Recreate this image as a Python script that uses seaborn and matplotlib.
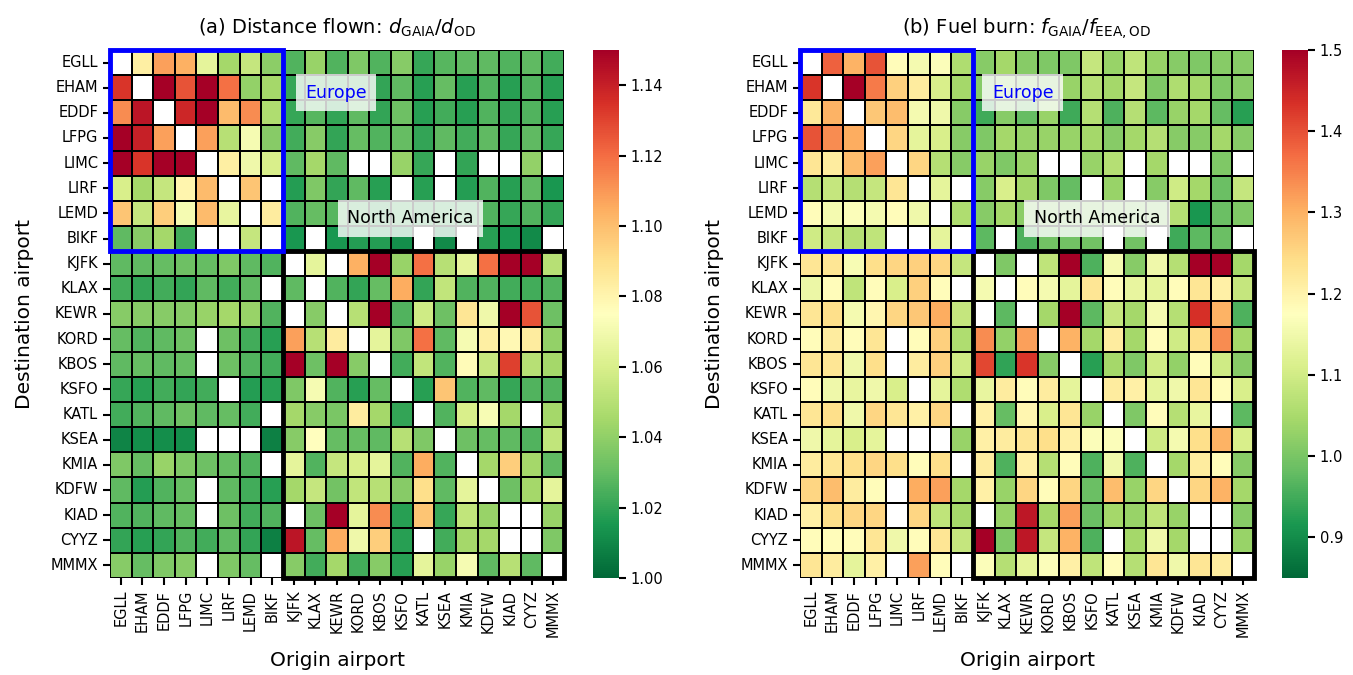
import numpy as np
import pandas as pd
import matplotlib
matplotlib.use("Agg")
import matplotlib.pyplot as plt
from matplotlib.patches import Rectangle
import seaborn as sns

nan = np.nan

# ── Data ────────────────────────────────────────────────────────────────────
airports = ["EGLL", "EHAM", "EDDF", "LFPG", "LIMC", "LIRF", "LEMD", "BIKF",
            "KJFK", "KLAX", "KEWR", "KORD", "KBOS", "KSFO", "KATL", "KSEA",
            "KMIA", "KDFW", "KIAD", "CYYZ", "MMMX"]
n_europe = 8

# rows = destination, columns = origin
distance_ratio = [
    [nan, 1.083, 1.108, 1.104, 1.065, 1.045, 1.054, 1.039, 1.026, 1.042, 1.026, 1.036, 1.026, 1.038, 1.021, 1.027, 1.029, 1.029, 1.026, 1.029, 1.023],  # EGLL
    [1.134, nan, 1.150, 1.126, 1.150, 1.119, 1.041, 1.045, 1.021, 1.024, 1.023, 1.024, 1.020, 1.029, 1.018, 1.030, 1.018, 1.026, 1.018, 1.026, 1.018],  # EHAM
    [1.113, 1.143, nan, 1.138, 1.150, 1.101, 1.113, 1.048, 1.021, 1.027, 1.020, 1.029, 1.020, 1.032, 1.018, 1.023, 1.018, 1.026, 1.020, 1.026, 1.018],  # EDDF
    [1.150, 1.140, 1.108, nan, 1.108, 1.050, 1.071, 1.038, 1.023, 1.038, 1.020, 1.030, 1.026, 1.030, 1.020, 1.029, 1.023, 1.029, 1.021, 1.029, 1.021],  # LFPG
    [1.150, 1.134, 1.150, 1.150, nan, 1.083, 1.069, 1.060, 1.029, 1.045, 1.029, nan, nan, 1.042, 1.021, nan, 1.020, nan, nan, 1.041, nan],  # LIMC
    [1.060, 1.045, 1.054, 1.080, 1.101, nan, 1.098, nan, 1.017, 1.036, 1.020, 1.029, 1.018, nan, 1.018, nan, 1.017, 1.026, 1.018, 1.029, 1.015],  # LIRF
    [1.098, 1.054, 1.095, 1.071, 1.101, 1.066, nan, 1.084, 1.026, 1.030, 1.027, 1.024, 1.021, 1.024, 1.021, 1.023, 1.023, 1.026, 1.021, 1.026, 1.020],  # LEMD
    [1.029, 1.038, 1.045, 1.023, nan, nan, 1.054, nan, 1.015, nan, 1.015, 1.017, 1.017, 1.012, nan, 1.011, nan, 1.018, 1.015, 1.011, nan],  # BIKF
    [1.029, 1.029, 1.030, 1.032, 1.030, 1.036, 1.029, 1.026, nan, 1.065, nan, 1.104, 1.150, 1.042, 1.119, 1.050, 1.065, 1.119, 1.150, 1.150, 1.050],  # KJFK
    [1.023, 1.020, 1.023, 1.020, 1.029, 1.023, 1.029, nan, 1.029, nan, 1.026, 1.020, 1.030, 1.105, 1.020, 1.053, 1.026, 1.026, 1.023, 1.023, 1.026],  # KLAX
    [1.038, 1.038, 1.038, 1.038, 1.042, 1.045, 1.042, 1.026, nan, 1.038, nan, 1.050, 1.150, 1.026, 1.057, 1.032, 1.087, 1.069, 1.150, 1.126, 1.032],  # KEWR
    [1.030, 1.026, 1.029, 1.032, nan, 1.032, 1.023, 1.018, 1.108, 1.050, 1.084, nan, 1.065, 1.036, 1.119, 1.029, 1.071, 1.083, 1.078, 1.084, 1.041],  # KORD
    [1.029, 1.030, 1.029, 1.030, nan, 1.032, 1.026, 1.023, 1.150, 1.032, 1.150, 1.038, nan, 1.023, 1.053, 1.026, 1.077, 1.054, 1.131, 1.050, 1.045],  # KBOS
    [1.021, 1.018, 1.023, 1.020, 1.023, nan, 1.017, 1.018, 1.036, 1.071, 1.026, 1.018, 1.030, nan, 1.018, 1.098, 1.026, 1.029, 1.021, 1.026, 1.026],  # KSFO
    [1.023, 1.026, 1.029, 1.032, 1.029, 1.030, 1.023, nan, 1.045, 1.038, 1.035, 1.084, 1.045, 1.020, nan, 1.026, 1.060, 1.072, 1.045, nan, 1.045],  # KATL
    [1.009, 1.012, 1.012, 1.012, nan, nan, nan, 1.008, 1.038, 1.075, 1.030, 1.030, 1.029, 1.050, 1.036, nan, 1.032, 1.030, 1.029, 1.026, 1.053],  # KSEA
    [1.036, 1.030, 1.042, 1.036, 1.032, 1.030, 1.026, nan, 1.065, 1.026, 1.054, 1.060, 1.065, 1.026, 1.105, 1.026, nan, 1.045, 1.095, 1.045, 1.029],  # KMIA
    [1.029, 1.017, 1.026, 1.030, nan, 1.029, 1.023, 1.018, 1.045, 1.054, 1.033, 1.053, 1.050, 1.038, 1.090, 1.029, 1.065, nan, 1.032, 1.045, 1.065],  # KDFW
    [1.026, 1.026, 1.029, 1.030, nan, 1.032, 1.023, 1.026, nan, 1.032, 1.150, 1.065, 1.113, 1.018, 1.098, 1.021, 1.053, 1.042, nan, nan, 1.042],  # KIAD
    [1.020, 1.018, 1.020, 1.026, 1.023, 1.029, 1.020, 1.008, 1.143, 1.030, 1.105, 1.069, 1.095, 1.018, nan, 1.023, 1.045, 1.045, nan, nan, 1.036],  # CYYZ
    [1.038, 1.030, 1.036, 1.038, nan, 1.036, 1.030, nan, 1.038, 1.023, 1.045, 1.023, 1.038, 1.018, 1.065, 1.042, 1.071, 1.029, 1.050, 1.029, nan],  # MMMX
]

fuel_ratio = [
    [nan, 1.383, 1.299, 1.396, 1.182, 1.156, 1.169, 1.058, 1.013, 1.045, 1.013, 1.006, 1.006, 1.084, 1.032, 1.078, 1.032, 1.013, 1.006, 1.013, 1.013],  # EGLL
    [1.429, nan, 1.500, 1.357, 1.260, 1.214, 1.110, 1.045, 1.013, 1.032, 1.019, 1.019, 1.032, 1.065, 1.045, 1.084, 1.006, 1.058, 1.045, 1.006, 1.013],  # EHAM
    [1.221, 1.299, nan, 1.273, 1.286, 1.156, 1.149, 1.013, 0.948, 1.013, 0.980, 1.032, 0.948, 1.065, 0.961, 1.065, 0.974, 1.032, 1.045, 0.980, 0.928],  # EDDF
    [1.396, 1.338, 1.305, nan, 1.253, 1.130, 1.110, 1.013, 1.006, 1.045, 1.032, 1.032, 1.032, 1.045, 1.013, 1.045, 1.065, 1.013, 1.013, 1.045, 1.013],  # LFPG
    [1.227, 1.214, 1.286, 1.318, nan, 1.253, 1.065, 1.013, 1.032, 1.006, 1.032, nan, nan, 1.032, 1.065, nan, 1.045, nan, nan, 1.006, nan],  # LIMC
    [1.065, 1.084, 1.065, 1.084, 1.227, nan, 1.130, nan, 1.013, 1.110, 1.045, 1.006, 0.980, nan, 1.032, nan, 1.013, 1.097, 1.045, 0.987, 1.084],  # LIRF
    [1.182, 1.156, 1.169, 1.156, 1.182, 1.149, nan, 1.058, 1.013, 1.045, 1.019, 1.019, 1.019, 1.019, 1.019, 1.019, 1.019, 1.065, 0.915, 0.987, 1.006],  # LEMD
    [1.097, 1.084, 1.065, 1.078, nan, nan, 1.130, nan, 0.974, nan, 0.961, 0.993, 0.993, 0.993, nan, 0.993, nan, 0.948, 0.974, 0.987, nan],  # BIKF
    [1.227, 1.227, 1.162, 1.240, 1.253, 1.260, 1.253, 1.084, nan, 1.006, nan, 1.078, 1.500, 0.961, 1.156, 1.013, 1.149, 1.065, 1.500, 1.500, 1.045],  # KJFK
    [1.143, 1.182, 1.078, 1.182, 1.110, 1.260, 1.182, nan, 1.156, nan, 1.182, 1.156, 1.130, 1.227, 1.182, 1.136, 1.130, 1.182, 1.227, 1.208, 1.084],  # KLAX
    [1.227, 1.240, 1.156, 1.195, 1.253, 1.273, 1.305, 1.084, nan, 0.974, nan, 1.045, 1.500, 0.974, 1.084, 1.045, 1.156, 1.065, 1.435, 1.299, 0.961],  # KEWR
    [1.182, 1.214, 1.182, 1.227, nan, 1.182, 1.260, 1.058, 1.338, 1.026, 1.318, nan, 1.299, 1.045, 1.214, 1.045, 1.182, 1.097, 1.240, 1.338, 1.045],  # KORD
    [1.227, 1.227, 1.149, 1.240, nan, 1.214, 1.260, 1.097, 1.409, 0.935, 1.429, 1.013, nan, 0.928, 1.045, 1.006, 1.097, 1.026, 1.182, 1.097, 1.013],  # KBOS
    [1.182, 1.149, 1.136, 1.149, 1.110, nan, 1.130, 1.058, 1.136, 1.214, 1.182, 1.214, 1.130, nan, 1.214, 1.208, 1.130, 1.149, 1.227, 1.182, 1.110],  # KSFO
    [1.227, 1.240, 1.149, 1.253, 1.227, 1.208, 1.253, nan, 1.208, 0.980, 1.195, 1.110, 1.227, 1.032, nan, 1.006, 1.182, 1.065, 1.136, nan, 0.974],  # KATL
    [1.149, 1.130, 1.110, 1.130, nan, nan, nan, 1.032, 1.208, 1.214, 1.227, 1.240, 1.208, 1.169, 1.169, nan, 1.097, 1.156, 1.240, 1.299, 1.110],  # KSEA
    [1.214, 1.227, 1.240, 1.253, 1.240, 1.182, 1.240, nan, 1.214, 0.961, 1.208, 1.065, 1.182, 0.961, 1.149, 0.961, nan, 1.045, 1.214, 1.182, 1.013],  # KMIA
    [1.253, 1.286, 1.214, 1.182, nan, 1.305, 1.318, 1.045, 1.208, 1.032, 1.253, 1.182, 1.253, 0.987, 1.286, 1.032, 1.253, nan, 1.253, 1.299, 1.045],  # KDFW
    [1.208, 1.240, 1.253, 1.253, nan, 1.253, 1.078, 1.045, nan, 1.032, 1.468, 1.045, 1.318, 0.987, 1.045, 1.032, 1.078, 1.032, nan, nan, 1.013],  # KIAD
    [1.182, 1.182, 1.182, 1.227, 1.149, 1.182, 1.227, 1.084, 1.500, 1.006, 1.468, 1.084, 1.299, 0.961, nan, 1.045, 1.149, 1.045, nan, nan, 1.032],  # CYYZ
    [1.227, 1.214, 1.130, 1.208, nan, 1.318, 1.182, nan, 1.169, 1.065, 1.130, 1.169, 1.208, 1.078, 1.182, 1.065, 1.227, 1.149, 1.227, 1.214, nan],  # MMMX
]

dist_ticks = [1.00, 1.02, 1.04, 1.06, 1.08, 1.10, 1.12, 1.14]
fuel_ticks = [0.9, 1.0, 1.1, 1.2, 1.3, 1.4, 1.5]

# ── Figure ──────────────────────────────────────────────────────────────────
sns.set_theme(style="ticks", rc={"text.color": "black", "axes.labelcolor": "black",
                                 "xtick.color": "black", "ytick.color": "black"})
plt.rcParams["font.family"] = ["DejaVu Sans"]
plt.rcParams["mathtext.fontset"] = "dejavusans"

W, H = 1353, 675
fig = plt.figure(figsize=(W / 100, H / 100), dpi=100)


def px_axes(x0, y0, x1, y1):
    return fig.add_axes([x0 / W, 1 - y1 / H, (x1 - x0) / W, (y1 - y0) / H])


panels = [
    dict(data=distance_ratio, vmin=1.0, vmax=1.15, ticks=dist_ticks, fmt="{:.2f}",
         box=(110, 50, 564, 578), cbox=(593, 50, 619, 578),
         title=r"(a) Distance flown: $d_\mathrm{GAIA}/d_\mathrm{OD}$",
         eu_xy=(10.45, 1.7), na_xy=(13.9, 6.7)),
    dict(data=fuel_ratio, vmin=0.85, vmax=1.5, ticks=fuel_ticks, fmt="{:.1f}",
         box=(800, 50, 1254, 578), cbox=(1282, 50, 1308, 578),
         title=r"(b) Fuel burn: $f_\mathrm{GAIA}/f_\mathrm{EEA,OD}$",
         eu_xy=(10.3, 1.7), na_xy=(13.75, 6.7)),
]

for p in panels:
    ax = px_axes(*p["box"])
    cax = px_axes(*p["cbox"])
    df = pd.DataFrame(p["data"], index=airports, columns=airports)
    sns.heatmap(df, cmap="RdYlGn_r", vmin=p["vmin"], vmax=p["vmax"],
                linewidths=1.2, linecolor="black", ax=ax, cbar_ax=cax,
                xticklabels=airports, yticklabels=airports,
                cbar_kws={"ticks": p["ticks"]})
    cax.set_yticklabels([p["fmt"].format(t) for t in p["ticks"]])
    cax.tick_params(labelsize=10.5, length=5, width=1.5)

    ax.tick_params(axis="both", labelsize=10.5, length=5, width=1.5)
    ax.set_xticklabels(airports, rotation=90)
    ax.set_yticklabels(airports, rotation=0)
    ax.set_xlabel("Origin airport", fontsize=14.5, labelpad=10)
    ax.set_ylabel("Destination airport", fontsize=14.5, labelpad=12)
    ax.set_title(p["title"], fontsize=14, pad=12)

    n = len(airports)
    ax.add_patch(Rectangle((n_europe, n_europe), n - n_europe, n - n_europe,
                           fill=False, edgecolor="black", lw=3.5, clip_on=False, zorder=5))
    ax.add_patch(Rectangle((0, 0), n_europe, n_europe,
                           fill=False, edgecolor="blue", lw=3.5, clip_on=False, zorder=6))

    bbox = dict(boxstyle="square,pad=0.55", facecolor="white", edgecolor="none", alpha=0.8)
    ax.text(*p["eu_xy"], "Europe", color="blue", fontsize=12.5,
            ha="center", va="center", bbox=bbox, zorder=7)
    ax.text(*p["na_xy"], "North America", color="black", fontsize=12.5,
            ha="center", va="center", bbox=bbox, zorder=7)

fig.savefig("out.png", dpi=100)
